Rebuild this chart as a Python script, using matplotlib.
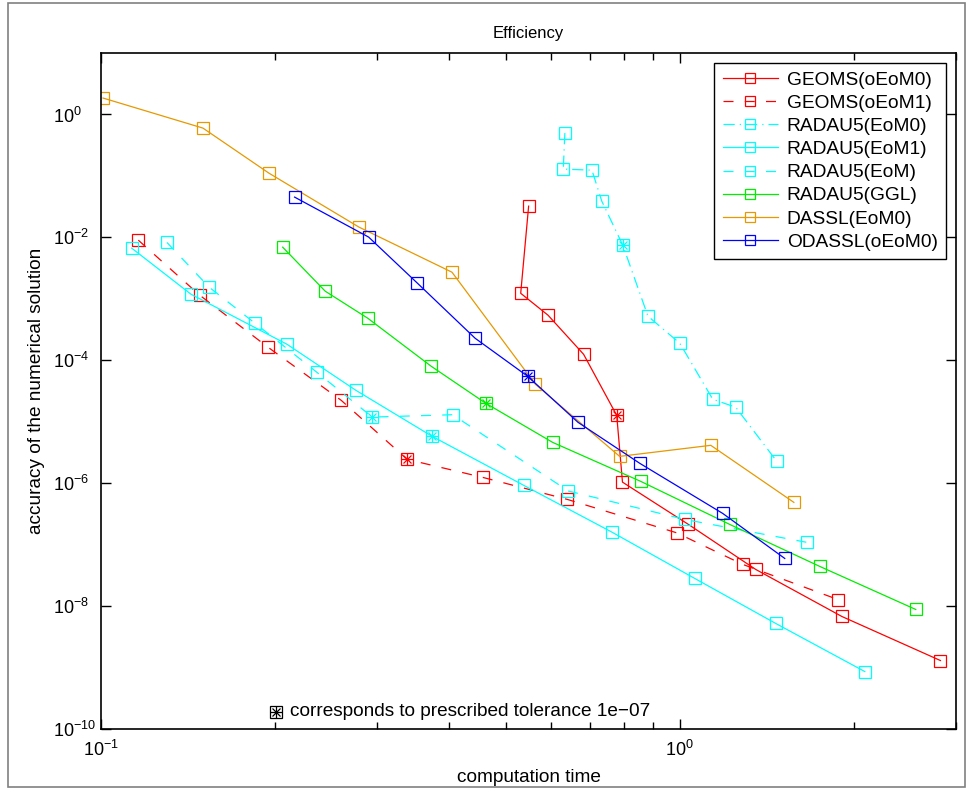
import matplotlib
matplotlib.use("Agg")
import matplotlib.pyplot as plt
from matplotlib.patches import Rectangle
from matplotlib.ticker import LogLocator, NullLocator, FixedLocator, LogFormatterSciNotation, NullFormatter

plt.rcParams['font.family'] = ['Liberation Sans', 'DejaVu Sans']

# ---- data ----
labels = ["GEOMS(oEoM0)", "GEOMS(oEoM1)", "RADAU5(EoM0)", "RADAU5(EoM1)",
          "RADAU5(EoM)", "RADAU5(GGL)", "DASSL(EoM0)", "ODASSL(oEoM0)"]

geoms0_t = [0.548, 0.531, 0.592, 0.682, 0.778, 0.796, 1.035, 1.353, 1.905, 2.82]
geoms0_e = [3.22e-2, 1.23e-3, 5.41e-4, 1.25e-4, 1.27e-5, 1.04e-6, 2.13e-7, 3.94e-8, 6.78e-9, 1.30e-9]

geoms1_t = [0.116, 0.148, 0.194, 0.260, 0.338, 0.457, 0.639, 0.987, 1.285, 1.875]
geoms1_e = [9.0e-3, 1.15e-3, 1.65e-4, 2.23e-5, 2.44e-6, 1.24e-6, 5.45e-7, 1.56e-7, 4.76e-8, 1.28e-8]

radau0_t = [0.633, 0.629, 0.705, 0.733, 0.797, 0.881, 1.000, 1.140, 1.249, 1.471]
radau0_e = [4.98e-1, 1.29e-1, 1.24e-1, 3.89e-2, 7.46e-3, 5.21e-4, 1.89e-4, 2.32e-5, 1.72e-5, 2.26e-6]

radau1_t = [0.113, 0.143, 0.2096, 0.2757, 0.3734, 0.5377, 0.763, 1.061, 1.465, 2.087]
radau1_e = [6.67e-3, 1.19e-3, 1.82e-4, 3.24e-5, 5.78e-6, 9.2e-7, 1.60e-7, 2.82e-8, 5.21e-9, 8.61e-10]

radau_t = [0.130, 0.1537, 0.1845, 0.236, 0.2942, 0.405, 0.642, 1.020, 1.657]
radau_e = [8.26e-3, 1.55e-3, 4.01e-4, 6.38e-5, 1.19e-5, 1.30e-5, 7.45e-7, 2.57e-7, 1.09e-7]

ggl_t = [0.206, 0.244, 0.289, 0.372, 0.462, 0.603, 0.856, 1.22, 1.745, 2.556]
ggl_e = [6.92e-3, 1.33e-3, 4.83e-4, 7.98e-5, 2.0e-5, 4.61e-6, 1.07e-6, 2.13e-7, 4.42e-8, 8.81e-9]

dassl_t = [0.1008, 0.150, 0.195, 0.279, 0.404, 0.563, 0.787, 1.131, 1.574]
dassl_e = [1.85, 0.60, 0.111, 1.47e-2, 2.71e-3, 4.06e-5, 2.73e-6, 4.13e-6, 4.87e-7]

odassl_t = [0.216, 0.290, 0.352, 0.443, 0.546, 0.667, 0.853, 1.186, 1.518]
odassl_e = [4.52e-2, 1.01e-2, 1.80e-3, 2.28e-4, 5.48e-5, 9.77e-6, 2.10e-6, 3.22e-7, 5.96e-8]

# index of the run with prescribed tolerance 1e-07 (None = not marked)
tol_index = [4, 4, 4, 4, 4, 4, None, 4]

series_t = [geoms0_t, geoms1_t, radau0_t, radau1_t, radau_t, ggl_t, dassl_t, odassl_t]
series_e = [geoms0_e, geoms1_e, radau0_e, radau1_e, radau_e, ggl_e, dassl_e, odassl_e]

colors = ["#ff0000", "#ff0000", "#00ffff", "#00ffff", "#00ffff", "#00ee00", "#e69900", "#0000ff"]
styles = ["-", (0, (8, 9)), (0, (9, 4, 1, 4)), "-", (0, (8, 9)), "-", "-", "-"]

xticks_major = [0.1, 1.0]
yticks_major = [1e-10, 1e-8, 1e-6, 1e-4, 1e-2, 1e0]

# ---- figure ----
W, H = 968, 798
fig = plt.figure(figsize=(W / 100, H / 100), dpi=100)
fig.patches.append(Rectangle((8 / W, 1 - 787 / H), (965 - 8) / W, (787 - 3) / H,
                             transform=fig.transFigure, fill=False,
                             edgecolor="#808080", linewidth=1.2))
ax = fig.add_axes([101 / W, 1 - 729 / H, (956 - 101) / W, (729 - 53) / H])

for t, e, lab, c, ls, ti in zip(series_t, series_e, labels, colors, styles, tol_index):
    ax.plot(t, e, linestyle=ls, color=c, linewidth=0.9, marker="s", markersize=8,
            markerfacecolor="none", markeredgecolor=c, markeredgewidth=0.9, label=lab)
    if ti is not None:
        ax.plot([t[ti]], [e[ti]], linestyle="none", marker="x", markersize=6,
                color=c, markeredgewidth=0.9)
        ax.plot([t[ti]], [e[ti]], linestyle="none", marker="+", markersize=8,
                color=c, markeredgewidth=0.9)

ax.set_xscale("log")
ax.set_yscale("log")
ax.set_xlim(0.1, 3.0)
ax.set_ylim(1e-10, 1e1)

ax.xaxis.set_major_locator(FixedLocator(xticks_major))
ax.xaxis.set_minor_locator(LogLocator(base=10, subs=range(2, 10), numticks=20))
ax.xaxis.set_major_formatter(LogFormatterSciNotation())
ax.xaxis.set_minor_formatter(NullFormatter())
ax.yaxis.set_major_locator(FixedLocator(yticks_major))
ax.yaxis.set_minor_locator(NullLocator())
ax.yaxis.set_major_formatter(LogFormatterSciNotation())

ax.tick_params(which="both", direction="in", top=True, right=True, labelsize=13,
               width=1, color="black")
ax.tick_params(which="major", length=7)
ax.tick_params(which="minor", length=5)
ax.tick_params(axis="x", pad=8)
ax.tick_params(axis="y", pad=34.5)
for lab in ax.get_yticklabels():
    lab.set_horizontalalignment("left")
for s in ax.spines.values():
    s.set_linewidth(1.2)

ax.set_title("Efficiency", fontsize=12, pad=11)
ax.set_xlabel("computation time", fontsize=13.7, labelpad=6)
ax.set_ylabel("accuracy of the numerical solution", fontsize=13.7, labelpad=6)

# tolerance annotation
mx, my = (276 - 101) / 855, (729 - 712) / 676
ax.plot([mx], [my], transform=ax.transAxes, marker="s", markersize=8,
        markerfacecolor="none", markeredgecolor="black", markeredgewidth=0.9,
        linestyle="none", clip_on=False)
ax.plot([mx], [my], transform=ax.transAxes, marker="x", markersize=6,
        color="black", markeredgewidth=0.9, linestyle="none", clip_on=False)
ax.plot([mx], [my], transform=ax.transAxes, marker="+", markersize=8,
        color="black", markeredgewidth=0.9, linestyle="none", clip_on=False)
ax.text((290 - 101) / 855, my, "corresponds to prescribed tolerance 1e\u221207",
        transform=ax.transAxes, fontsize=13.7, va="center", ha="left")

leg = ax.legend(loc="upper right", fontsize=13.8, handlelength=2.9, markerscale=0.85,
                frameon=True, fancybox=False, edgecolor="black", framealpha=1,
                borderaxespad=0.5, labelspacing=0.3, borderpad=0.45, handletextpad=0.45)
leg.get_frame().set_linewidth(1.0)

fig.savefig("out.png", dpi=100)
